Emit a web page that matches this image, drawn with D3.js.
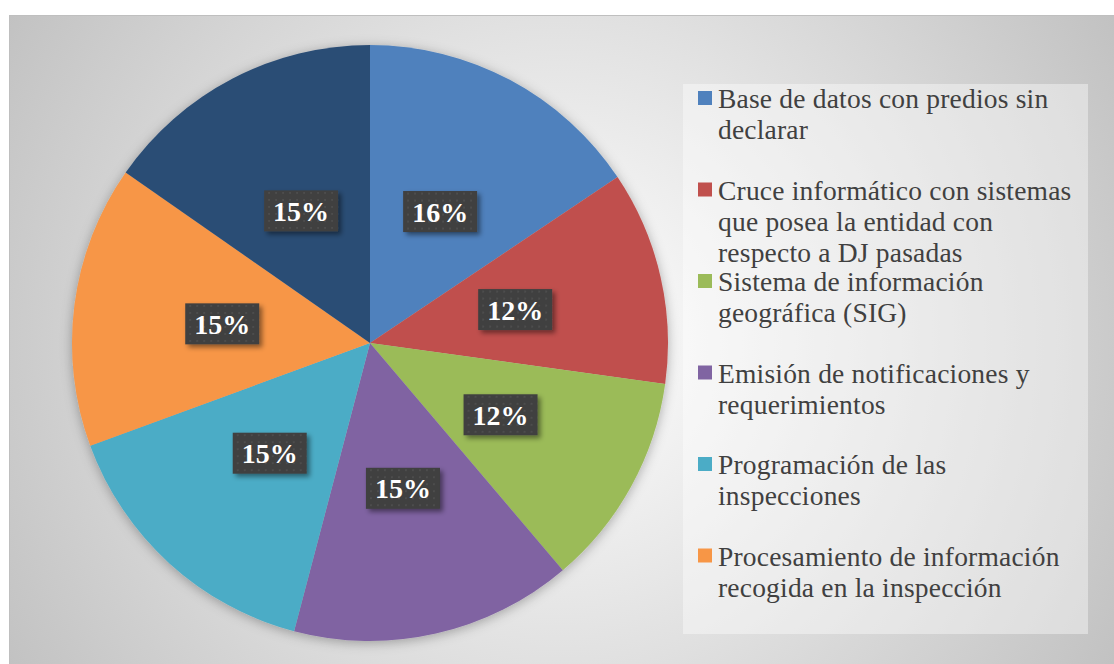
<!DOCTYPE html>
<html>
<head>
<meta charset="utf-8">
<script src="https://cdn.jsdelivr.net/npm/d3@7"></script>
<style>
  body { margin: 0; background: #fff; }
  svg { display: block; }
</style>
</head>
<body>
<div id="chart"></div>
<script>
// Chart data
const categories = [
    'Base de datos con predios sin\ndeclarar',
    'Cruce informático con sistemas\nque posea la entidad con\nrespecto a DJ pasadas',
    'Sistema de información\ngeográfica (SIG)',
    'Emisión de notificaciones y\nrequerimientos',
    'Programación de las\ninspecciones',
    'Procesamiento de información\nrecogida en la inspección',
    'Otros'
];
const values = [15.6, 11.6, 11.6, 15.3, 15.3, 15.3, 15.3];
const colors = ['#4f81bd', '#c0504d', '#9bbb59', '#8064a2', '#4bacc6', '#f79646', '#2c4d75'];
const legendCount = 6; // the last entry is cut off in the original

const width = 1114;
const height = 664;

const svg = d3.select('#chart')
    .append('svg')
    .attr('width', width)
    .attr('height', height)
    .attr('viewBox', `0 0 ${width} ${height}`);

const defs = svg.append('defs');

// Background radial gradient
const bg = defs.append('radialGradient')
    .attr('id', 'bgGrad')
    .attr('gradientUnits', 'userSpaceOnUse')
    .attr('cx', 560).attr('cy', 340).attr('r', 660);
bg.append('stop').attr('offset', 0).attr('stop-color', '#ffffff');
bg.append('stop').attr('offset', 0.5).attr('stop-color', '#e0e0e0');
bg.append('stop').attr('offset', 1).attr('stop-color', '#c0c0c0');

// Soft shadow for pie
const pieShadow = defs.append('filter').attr('id', 'pieShadow')
    .attr('x', '-10%').attr('y', '-10%').attr('width', '120%').attr('height', '120%');
pieShadow.append('feDropShadow')
    .attr('dx', 0).attr('dy', 2).attr('stdDeviation', 6)
    .attr('flood-color', '#000').attr('flood-opacity', 0.3);

// Shadow for label boxes
const boxShadow = defs.append('filter').attr('id', 'boxShadow')
    .attr('x', '-20%').attr('y', '-20%').attr('width', '150%').attr('height', '160%');
boxShadow.append('feDropShadow')
    .attr('dx', 3).attr('dy', 3).attr('stdDeviation', 2.5)
    .attr('flood-color', '#000').attr('flood-opacity', 0.45);

// Dotted pattern for label boxes
const dots = defs.append('pattern')
    .attr('id', 'dots')
    .attr('patternUnits', 'userSpaceOnUse')
    .attr('width', 7).attr('height', 7);
dots.append('rect').attr('width', 7).attr('height', 7).attr('fill', '#3f3f3f');
dots.append('rect').attr('x', 2).attr('y', 2).attr('width', 2).attr('height', 2).attr('fill', '#4d4d4d');

// Chart area
svg.append('rect')
    .attr('x', 9.5).attr('y', 15.5)
    .attr('width', 1120).attr('height', 670)
    .attr('fill', 'url(#bgGrad)')
    .attr('stroke', '#bfbfbf')
    .attr('stroke-width', 1);

// Pie
const cx = 370, cy = 343, radius = 298;
const total = d3.sum(values);
const data = values.map((v, i) => ({ name: categories[i], value: v, color: colors[i] }));

const pie = d3.pie().sort(null).value(d => d.value);
const arc = d3.arc().innerRadius(0).outerRadius(radius);
const arcs = pie(data);

const g = svg.append('g').attr('transform', `translate(${cx},${cy})`);

g.append('g')
    .attr('filter', 'url(#pieShadow)')
    .selectAll('path')
    .data(arcs)
    .join('path')
    .attr('d', arc)
    .attr('fill', d => d.data.color);

// Percent labels
const boxW = 74, boxH = 41;
const label = g.selectAll('g.label')
    .data(arcs)
    .join('g')
    .attr('class', 'label')
    .attr('transform', d => {
        const [x, y] = arc.centroid(d);
        return `translate(${x},${y})`;
    });

label.append('rect')
    .attr('x', -boxW / 2).attr('y', -boxH / 2)
    .attr('width', boxW).attr('height', boxH)
    .attr('fill', 'url(#dots)')
    .attr('filter', 'url(#boxShadow)');

label.append('text')
    .attr('text-anchor', 'middle')
    .attr('y', 10)
    .attr('fill', '#ffffff')
    .style('font-family', '"Liberation Serif", "DejaVu Serif", serif')
    .style('font-weight', 'bold')
    .style('font-size', '28px')
    .text(d => `${Math.round(d.data.value / total * 100)}%`);

// Legend
svg.append('rect')
    .attr('x', 683).attr('y', 84)
    .attr('width', 405).attr('height', 550)
    .attr('fill', '#ffffff')
    .attr('fill-opacity', 0.4);

const legend = svg.append('g')
    .selectAll('g')
    .data(data.slice(0, legendCount))
    .join('g')
    .attr('transform', (d, i) => `translate(698,${108 + i * 91.5})`);

legend.append('rect')
    .attr('x', 0).attr('y', -17)
    .attr('width', 14).attr('height', 14)
    .attr('fill', d => d.color);

legend.append('text')
    .attr('x', 20)
    .attr('fill', '#404040')
    .style('font-family', '"Liberation Serif", "DejaVu Serif", serif')
    .style('font-size', '27.5px')
    .style('letter-spacing', '0.2px')
    .selectAll('tspan')
    .data(d => d.name.split('\n'))
    .join('tspan')
    .attr('x', 20)
    .attr('y', (d, i) => i * 31)
    .text(d => d);
</script>
</body>
</html>
